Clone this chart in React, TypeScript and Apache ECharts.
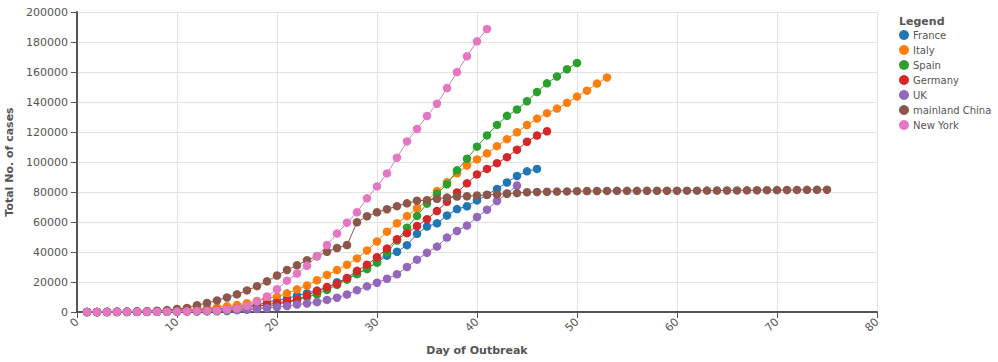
import React, { useEffect, useRef } from "react";
import * as echarts from "echarts";

const seriesNames = ["France", "Italy", "Spain", "Germany", "UK", "mainland China", "New York"];
const colors = ["#1f77b4", "#ff7f0e", "#2ca02c", "#d62728", "#9467bd", "#8c564b", "#e377c2"];

const xTicks = [0, 10, 20, 30, 40, 50, 60, 70, 80];
const yTicks = [0, 20000, 40000, 60000, 80000, 100000, 120000, 140000, 160000, 180000, 200000];

// cumulative cases per day of outbreak, starting at day 1
const france = [
  38, 57, 100, 130, 191, 204, 285, 377, 653, 949, 1126, 1209, 1784, 2284, 2284, 3667, 4480, 4513, 6650, 7652,
  9043, 10871, 12612, 14282, 16018, 19856, 22304, 25233, 29155, 32964, 37575, 40174, 44550, 52128, 56989, 59105,
  64338, 68605, 70478, 74390, 78167, 82048, 86334, 90676, 93790, 95403,
];
const italy = [
  3, 20, 79, 150, 227, 320, 445, 650, 888, 1128, 1694, 2036, 2502, 3089, 3858, 4636, 5883, 7375, 9172, 10149,
  12462, 15113, 17660, 21157, 24747, 27980, 31506, 35713, 41035, 47021, 53578, 59138, 63927, 69176, 74386, 80589,
  86498, 92472, 97689, 101739, 105792, 110574, 115242, 119827, 124632, 128948, 132547, 135586, 139422, 143626,
  147577, 152271, 156363,
];
const spain = [
  2, 3, 7, 12, 17, 32, 45, 84, 120, 165, 228, 282, 401, 525, 674, 1231, 1695, 2277, 3146, 5232, 6391, 7988, 9942,
  11826, 14769, 18077, 21571, 25496, 28572, 33089, 39673, 47610, 56188, 64059, 72248, 78797, 85195, 94417, 102136,
  110238, 117710, 124736, 130759, 135032, 140510, 146690, 152446, 157022, 161852, 166019,
];
const germany = [
  18, 21, 26, 53, 66, 117, 150, 188, 240, 400, 639, 795, 1112, 1296, 1567, 2369, 3062, 3795, 4838, 6012, 7156,
  8198, 10999, 13957, 16662, 18610, 22672, 27436, 31554, 36508, 42288, 48582, 52547, 57298, 61913, 67366, 73522,
  79696, 85778, 91714, 95391, 99225, 103228, 108202, 113525, 117658, 120479,
];
const uk = [
  23, 36, 40, 51, 85, 115, 163, 206, 273, 321, 382, 456, 590, 798, 1140, 1391, 1543, 1950, 2626, 3269, 3983, 5018,
  5683, 6650, 8077, 9529, 11658, 14543, 17089, 19522, 22141, 25150, 30000, 34900, 39500, 43600, 49600, 54000,
  57600, 63300, 68200, 74000, 79000, 84300,
];
const china = [
  45, 62, 121, 198, 291, 440, 571, 830, 1287, 1975, 2744, 4515, 5974, 7711, 9692, 11791, 14380, 17205, 20438,
  24324, 28018, 31161, 34546, 37198, 40171, 42638, 44653, 59804, 63851, 66492, 68500, 70548, 72436, 74185, 74576,
  75465, 76288, 76936, 77150, 77658, 78064, 78497, 78824, 79251, 79824, 80026, 80151, 80270, 80409, 80552, 80651,
  80695, 80735, 80754, 80778, 80793, 80813, 80824, 80844, 80860, 80881, 80894, 80928, 80967, 81008, 81054, 81093,
  81171, 81218, 81285, 81340, 81394, 81439, 81470, 81518,
];
const newYork = [
  2, 11, 22, 44, 89, 106, 142, 173, 217, 326, 421, 610, 732, 950, 1700, 2382, 4152, 7102, 10356, 15168, 20875,
  25665, 30811, 37258, 44635, 52318, 59513, 66497, 75795, 83712, 92381, 102863, 113704, 122031, 130689, 138863,
  149316, 159937, 170512, 180458, 188694,
];

const seriesValues = [france, italy, spain, germany, uk, china, newYork];

const FONT = "DejaVu Sans";

export default function App() {
  const ref = useRef<HTMLDivElement>(null);
  useEffect(() => {
    if (!ref.current) return;
    const chart = echarts.init(ref.current, null, { renderer: "svg" });
    const axisColor = "#555";
    chart.setOption({
      animation: false,
      textStyle: { fontFamily: FONT },
      grid: { left: 77, right: 121, top: 12, bottom: 50, containLabel: false, outerBoundsMode: "none" },
      graphic: [
        {
          type: "text",
          left: 899,
          top: 16,
          style: { text: "Legend", font: `bold 11px ${FONT}`, fill: "#555" },
        },
      ],
      legend: {
        orient: "vertical",
        left: 899,
        top: 30,
        padding: 0,
        icon: "circle",
        itemWidth: 10,
        itemHeight: 10,
        itemGap: 5,
        data: seriesNames,
        textStyle: { fontFamily: FONT, fontSize: 10, color: "#555", lineHeight: 10, padding: [0, 0, 0, -1] },
        selectedMode: false,
      },
      xAxis: {
        type: "value",
        min: xTicks[0],
        max: xTicks[xTicks.length - 1],
        interval: 10,
        name: "Day of Outbreak",
        nameLocation: "middle",
        nameGap: 33,
        nameTextStyle: { fontFamily: FONT, fontWeight: "bold", fontSize: 11, color: "#555" },
        axisLine: { show: true, onZero: false, lineStyle: { color: axisColor, width: 2 } },
        axisTick: { show: true, length: 6, lineStyle: { color: axisColor } },
        axisLabel: { rotate: 45, fontSize: 11, color: "#555", margin: 8, fontFamily: FONT },
        splitLine: { show: true, lineStyle: { color: "#e3e3e3", width: 1 } },
      },
      yAxis: {
        type: "value",
        min: yTicks[0],
        max: yTicks[yTicks.length - 1],
        interval: 20000,
        name: "Total No. of cases",
        nameLocation: "middle",
        nameGap: 53,
        nameTextStyle: { fontFamily: FONT, fontWeight: "bold", fontSize: 11, color: "#555" },
        axisLine: { show: true, lineStyle: { color: axisColor, width: 2 } },
        axisTick: { show: true, length: 6, lineStyle: { color: axisColor } },
        axisLabel: {
          fontSize: 11,
          color: "#555",
          margin: 9,
          fontFamily: FONT,
          formatter: (v: number) => String(v),
        },
        splitLine: { show: true, lineStyle: { color: "#e3e3e3", width: 1 } },
      },
      series: seriesNames.map((name, i) => ({
        name,
        type: "line",
        data: seriesValues[i].map((v, d) => [d + 1, v]),
        symbol: "circle",
        symbolSize: 8.5,
        showSymbol: true,
        lineStyle: { color: colors[i], width: 1 },
        itemStyle: { color: colors[i] },
        emphasis: { disabled: true },
        z: 2 + i,
      })),
    });
    return () => chart.dispose();
  }, []);
  return <div ref={ref} style={{ width: 998, height: 362, position: "absolute", left: 0, top: 0 }} />;
}
